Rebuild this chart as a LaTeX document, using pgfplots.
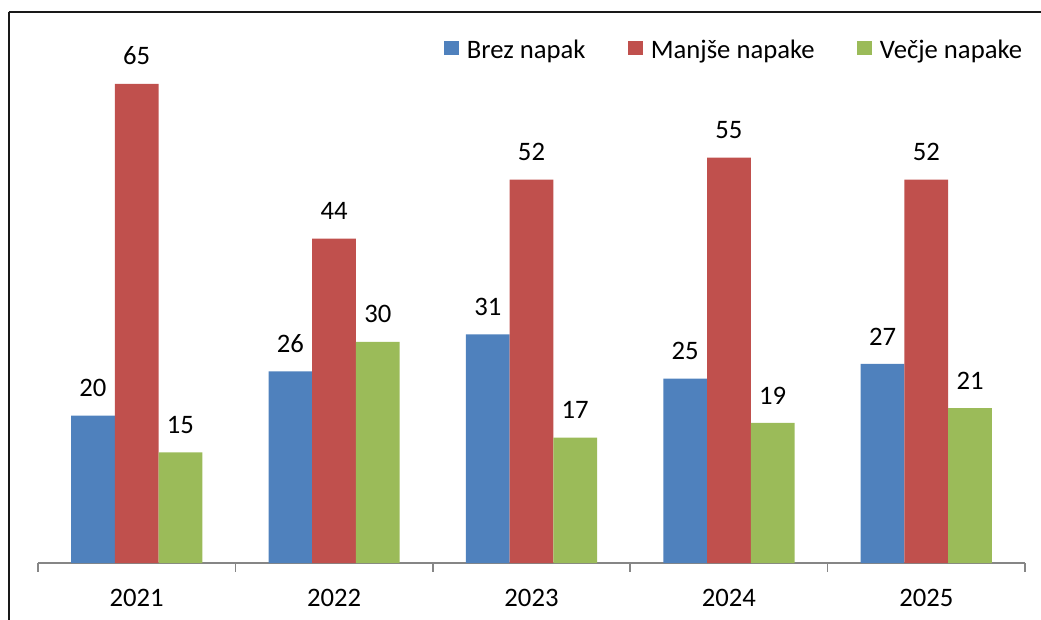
\documentclass[border=0pt]{standalone}
\usepackage{pgfplots}
\pgfplotsset{compat=1.18}
\usepackage{fontspec}
\setmainfont{Carlito}
\definecolor{cBlue}{HTML}{4F81BD}
\definecolor{cRed}{HTML}{C0504D}
\definecolor{cGreen}{HTML}{9BBB59}
\definecolor{cAxis}{HTML}{868686}
\begin{document}
\begin{tikzpicture}
\useasboundingbox (0pt,0pt) rectangle (780.75pt,464.25pt);
\draw[line width=1.5pt,black!90] (6.4pt,455.6pt) -- (6.4pt,-20pt) (6.4pt,455.6pt) -- (800pt,455.6pt);
\begin{axis}[
  at={(28.5pt,42pt)}, anchor=south west,
  scale only axis, width=740.25pt, height=387pt,
  xmin=0.5, xmax=5.5, ymin=0, ymax=70,
  ybar=0pt, bar width=32.8pt,
  axis x line*=bottom, axis y line=none,
  x axis line style={-, draw=cAxis, line width=1.1pt},
  xtick={1,2,3,4,5},
  xticklabels={2021,2022,2023,2024,2025},
  major tick length=0pt,
  tick align=outside,
  xtick style={draw=cAxis, line width=1.1pt},
  extra x ticks={0.5,1.5,2.5,3.5,4.5,5.5},
  extra x tick labels={},
  extra x tick style={major tick length=6.5pt, tick align=outside},
  xticklabel style={font=\fontsize{20}{23}\selectfont, inner sep=0pt, yshift=-19.5pt},
  /pgf/number format/assume math mode=true,
  nodes near coords,
  every node near coord/.append style={font=\fontsize{20}{23}\selectfont, black, inner sep=0pt, anchor=south, yshift=14pt},
  clip=false,
  legend columns=3,
  legend style={draw=none, fill=none, at={(1,0.994)}, anchor=east, inner sep=0pt,
    font=\fontsize{20}{23}\selectfont,
    /tikz/every even column/.append style={column sep=30pt},
    nodes={inner xsep=2pt, inner ysep=0pt}},
  legend image code/.code={\fill[#1,draw=none] (0pt,-3.5pt) rectangle (11.25pt,7pt); \path (15pt,0pt);},
]
\addplot[fill=cBlue, draw=none] coordinates {(1,20) (2,26) (3,31) (4,25) (5,27)};
\addplot[fill=cRed, draw=none] coordinates {(1,65) (2,44) (3,52) (4,55) (5,52)};
\addplot[fill=cGreen, draw=none] coordinates {(1,15) (2,30) (3,17) (4,19) (5,21)};
\legend{Brez napak, Manjše napake, Večje napake}
\end{axis}
\end{tikzpicture}
\end{document}
